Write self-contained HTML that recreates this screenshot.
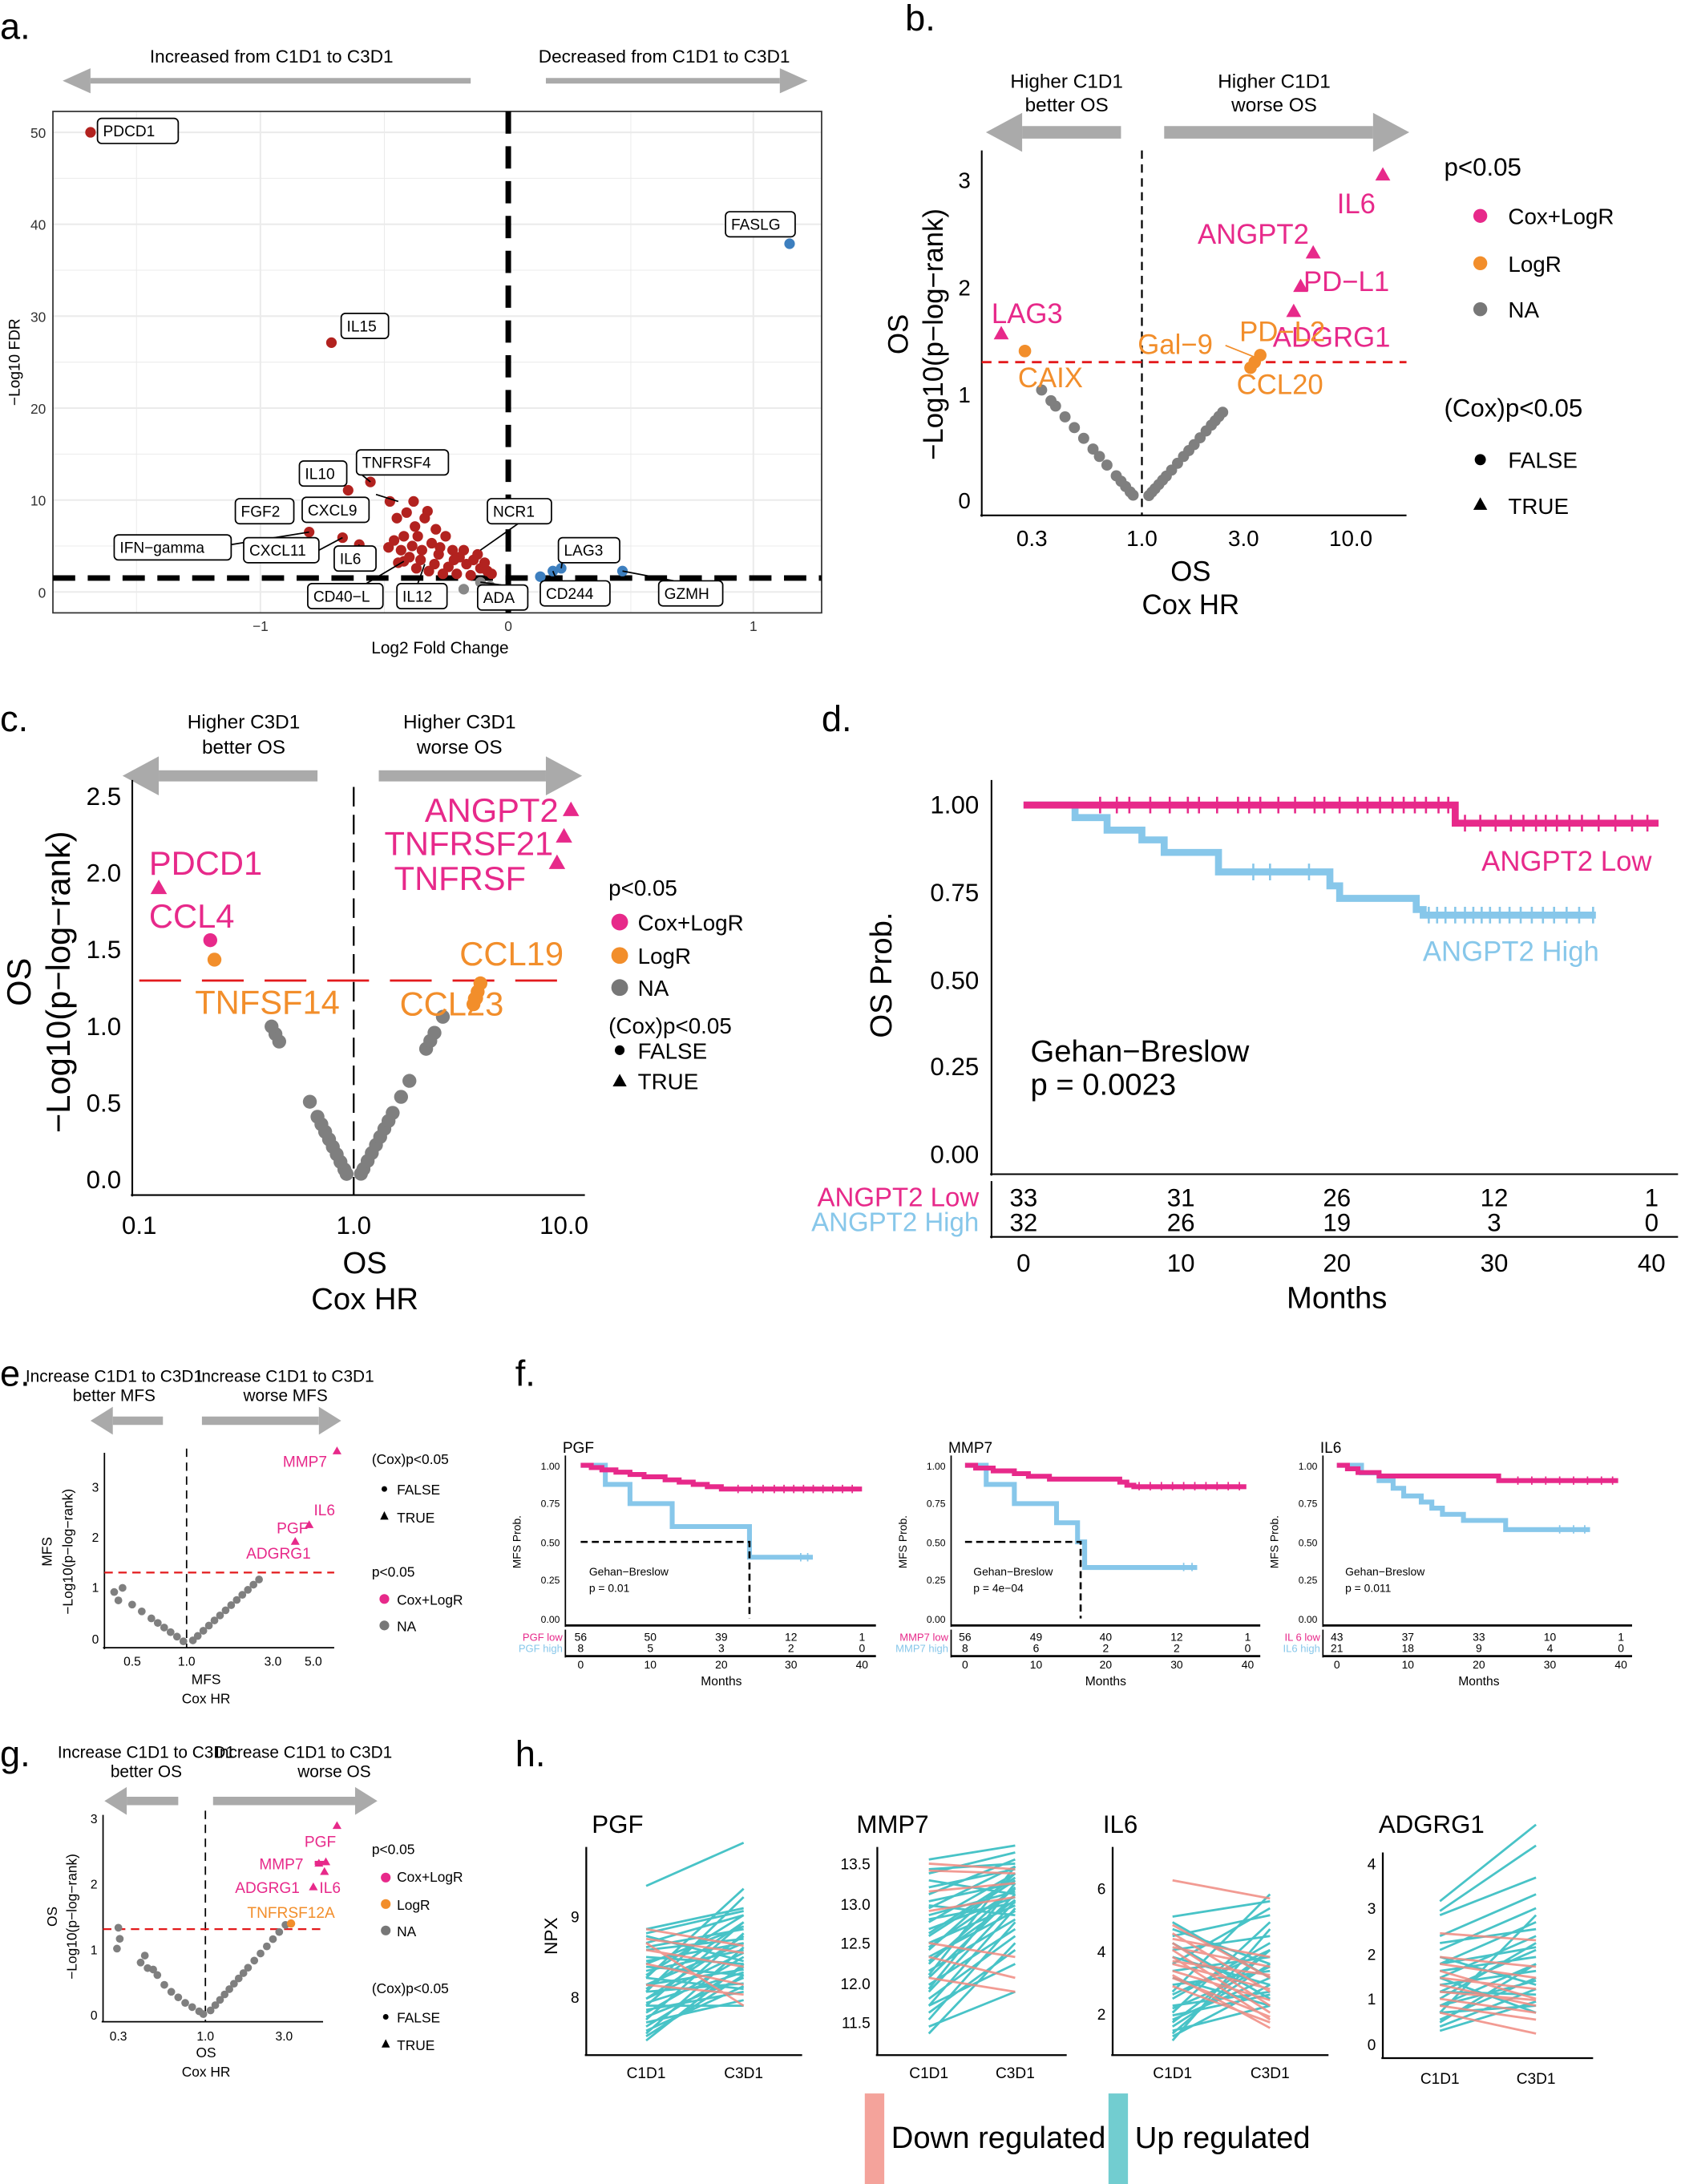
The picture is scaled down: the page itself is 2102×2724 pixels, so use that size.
<!DOCTYPE html>
<html><head><meta charset="utf-8"><style>
html,body{margin:0;padding:0;background:#fff}
svg{display:block}
text{font-family:"Liberation Sans",Arial,sans-serif}
.n{font-family:"Liberation Sans Narrow","Liberation Sans",sans-serif}
</style></head><body>
<svg xmlns="http://www.w3.org/2000/svg" width="2102" height="2724" viewBox="0 0 1210 1568" preserveAspectRatio="none">
<rect width="1210" height="1568" fill="#fff"/>
<!-- arrows -->
<g fill="#aaa" stroke="#aaa">
<line x1="65" y1="58" x2="338" y2="58" stroke-width="4"/><path d="M45,58 L65,49 L65,67z" stroke="none"/>
<line x1="392" y1="58" x2="560" y2="58" stroke-width="4"/><path d="M580,58 L560,49 L560,67z" stroke="none"/>
<line x1="734" y1="95" x2="805" y2="95" stroke-width="9"/><path d="M708,95 L734,81 L734,109z" stroke="none"/>
<line x1="836" y1="95" x2="986" y2="95" stroke-width="9"/><path d="M1012,95 L986,81 L986,109z" stroke="none"/>
<line x1="114" y1="557" x2="228" y2="557" stroke-width="8"/><path d="M88,557 L114,543 L114,571z" stroke="none"/>
<line x1="272" y1="557" x2="392" y2="557" stroke-width="8"/><path d="M418,557 L392,543 L392,571z" stroke="none"/>
<line x1="81" y1="1020" x2="117" y2="1020" stroke-width="6"/><path d="M65,1020 L81,1010 L81,1030z" stroke="none"/>
<line x1="145" y1="1020" x2="229" y2="1020" stroke-width="6"/><path d="M245,1020 L229,1010 L229,1030z" stroke="none"/>
<line x1="91" y1="1293" x2="128" y2="1293" stroke-width="6"/><path d="M75,1293 L91,1283 L91,1303z" stroke="none"/>
<line x1="153" y1="1293" x2="255" y2="1293" stroke-width="6"/><path d="M271,1293 L255,1283 L255,1303z" stroke="none"/>
</g>
<!-- ===== Panel a ===== -->
<text x="0" y="28" font-size="26">a.</text>
<text x="195" y="45" font-size="13" text-anchor="middle">Increased from C1D1 to C3D1</text>
<text x="477" y="45" font-size="13" text-anchor="middle">Decreased from C1D1 to C3D1</text>
<g stroke="#ebebeb">
<line x1="98" y1="80" x2="98" y2="440" stroke-width="0.6"/><line x1="187" y1="80" x2="187" y2="440" stroke-width="1.2"/>
<line x1="276" y1="80" x2="276" y2="440" stroke-width="0.6"/><line x1="453" y1="80" x2="453" y2="440" stroke-width="0.6"/>
<line x1="541" y1="80" x2="541" y2="440" stroke-width="1.2"/>
<line x1="38" y1="425" x2="590" y2="425" stroke-width="1.2"/><line x1="38" y1="392" x2="590" y2="392" stroke-width="0.6"/>
<line x1="38" y1="359" x2="590" y2="359" stroke-width="1.2"/><line x1="38" y1="326" x2="590" y2="326" stroke-width="0.6"/>
<line x1="38" y1="293" x2="590" y2="293" stroke-width="1.2"/><line x1="38" y1="260" x2="590" y2="260" stroke-width="0.6"/>
<line x1="38" y1="227" x2="590" y2="227" stroke-width="1.2"/><line x1="38" y1="194" x2="590" y2="194" stroke-width="0.6"/>
<line x1="38" y1="161" x2="590" y2="161" stroke-width="1.2"/><line x1="38" y1="128" x2="590" y2="128" stroke-width="0.6"/>
<line x1="38" y1="95" x2="590" y2="95" stroke-width="1.2"/></g>
<rect x="38" y="80" width="552" height="360" fill="none" stroke="#333" stroke-width="1"/>
<g font-size="10" text-anchor="end" fill="#333">
<text x="33" y="99">50</text><text x="33" y="165">40</text><text x="33" y="231">30</text><text x="33" y="297">20</text><text x="33" y="363">10</text><text x="33" y="429">0</text></g>
<g font-size="10" text-anchor="middle" fill="#333"><text x="187" y="453">−1</text><text x="365" y="453">0</text><text x="541" y="453">1</text></g>
<text x="316" y="469" font-size="12" text-anchor="middle">Log2 Fold Change</text>
<text transform="translate(14,260) rotate(-90)" font-size="11" text-anchor="middle">−Log10 FDR</text>
<line x1="365" y1="80" x2="365" y2="440" stroke="#000" stroke-width="4" stroke-dasharray="16,9"/>
<line x1="38" y1="415" x2="590" y2="415" stroke="#000" stroke-width="4" stroke-dasharray="16,9"/>
<g fill="#b2221f">
<circle cx="65" cy="95" r="3.8"/><circle cx="238" cy="246" r="3.8"/><circle cx="266" cy="346" r="3.8"/><circle cx="250" cy="352" r="3.8"/><circle cx="222" cy="382" r="3.8"/><circle cx="246" cy="386" r="3.8"/><circle cx="258" cy="391" r="3.8"/><circle cx="290" cy="403" r="3.8"/><circle cx="248" cy="366" r="3.8"/>
<circle cx="280" cy="360" r="3.8"/><circle cx="285" cy="372" r="3.8"/><circle cx="292" cy="368" r="3.8"/><circle cx="298" cy="378" r="3.8"/><circle cx="300" cy="385" r="3.8"/><circle cx="305" cy="372" r="3.8"/><circle cx="296" cy="392" r="3.8"/><circle cx="288" cy="395" r="3.8"/><circle cx="310" cy="390" r="3.8"/><circle cx="315" cy="398" r="3.8"/><circle cx="320" cy="385" r="3.8"/><circle cx="325" cy="395" r="3.8"/><circle cx="330" cy="400" r="3.8"/><circle cx="335" cy="405" r="3.8"/><circle cx="312" cy="405" r="3.8"/><circle cx="302" cy="402" r="3.8"/><circle cx="294" cy="400" r="3.8"/><circle cx="322" cy="407" r="3.8"/><circle cx="340" cy="402" r="3.8"/><circle cx="345" cy="408" r="3.8"/><circle cx="350" cy="410" r="3.8"/><circle cx="318" cy="412" r="3.8"/><circle cx="308" cy="410" r="3.8"/><circle cx="328" cy="412" r="3.8"/><circle cx="338" cy="413" r="3.8"/><circle cx="290" cy="385" r="3.8"/><circle cx="283" cy="388" r="3.8"/><circle cx="303" cy="395" r="3.8"/><circle cx="313" cy="380" r="3.8"/><circle cx="297" cy="360" r="3.8"/><circle cx="307" cy="367" r="3.8"/><circle cx="326" cy="402" r="3.8"/><circle cx="333" cy="395" r="3.8"/><circle cx="343" cy="398" r="3.8"/><circle cx="348" cy="404" r="3.8"/><circle cx="353" cy="412" r="3.8"/><circle cx="286" cy="404" r="3.8"/><circle cx="279" cy="393" r="3.8"/><circle cx="299" cy="408" r="3.8"/><circle cx="316" cy="393" r="3.8"/></g>
<g fill="#3d7fbf"><circle cx="567" cy="175" r="3.8"/><circle cx="397" cy="410" r="3.8"/><circle cx="403" cy="408" r="3.8"/><circle cx="447" cy="410" r="3.8"/><circle cx="388" cy="414" r="3.8"/></g>
<g fill="#888"><circle cx="333" cy="423" r="3.8"/><circle cx="345" cy="418" r="3.8"/><circle cx="352" cy="421" r="3.8"/></g>
<g stroke="#000" stroke-width="1">
<line x1="270" y1="355" x2="286" y2="360"/><line x1="260" y1="341" x2="266" y2="346"/><line x1="255" y1="365" x2="248" y2="367"/><line x1="166" y1="391" x2="222" y2="382"/><line x1="229" y1="395" x2="246" y2="386"/><line x1="249" y1="410" x2="258" y2="391"/><line x1="263" y1="419" x2="290" y2="403"/><line x1="300" y1="419" x2="305" y2="405"/><line x1="360" y1="420" x2="345" y2="418"/><line x1="372" y1="376" x2="345" y2="395"/><line x1="405" y1="396" x2="403" y2="408"/><line x1="400" y1="417" x2="397" y2="410"/><line x1="484" y1="417" x2="447" y2="410"/></g>
<g fill="#fff" stroke="#000" stroke-width="1">
<rect x="70" y="85" width="58" height="18" rx="3"/><rect x="521" y="152" width="50" height="18" rx="3"/><rect x="245" y="225" width="34" height="18" rx="3"/><rect x="256" y="323" width="66" height="18" rx="3"/><rect x="215" y="331" width="34" height="18" rx="3"/><rect x="217" y="357" width="48" height="18" rx="3"/><rect x="169" y="358" width="42" height="18" rx="3"/><rect x="82" y="384" width="84" height="18" rx="3"/><rect x="175" y="386" width="54" height="18" rx="3"/><rect x="240" y="392" width="30" height="18" rx="3"/><rect x="221" y="419" width="54" height="18" rx="3"/><rect x="285" y="419" width="36" height="18" rx="3"/><rect x="343" y="420" width="36" height="18" rx="3"/><rect x="350" y="358" width="46" height="18" rx="3"/><rect x="401" y="386" width="44" height="18" rx="3"/><rect x="388" y="417" width="50" height="18" rx="3"/><rect x="473" y="417" width="46" height="18" rx="3"/></g>
<g font-size="11">
<text x="74" y="98">PDCD1</text><text x="525" y="165">FASLG</text><text x="249" y="238">IL15</text><text x="260" y="336">TNFRSF4</text><text x="219" y="344">IL10</text><text x="221" y="370">CXCL9</text><text x="173" y="371">FGF2</text><text x="86" y="397">IFN−gamma</text><text x="179" y="399">CXCL11</text><text x="244" y="405">IL6</text><text x="225" y="432">CD40−L</text><text x="289" y="432">IL12</text><text x="347" y="433">ADA</text><text x="354" y="371">NCR1</text><text x="405" y="399">LAG3</text><text x="392" y="430">CD244</text><text x="477" y="430">GZMH</text></g>
<!-- ===== Panel b ===== -->
<text x="650" y="22" font-size="26">b.</text>
<g font-size="14" text-anchor="middle"><text x="766" y="63">Higher C1D1</text><text x="766" y="80">better OS</text><text x="915" y="63">Higher C1D1</text><text x="915" y="80">worse OS</text></g>
<line x1="705" y1="108" x2="705" y2="371" stroke="#000" stroke-width="1.2"/>
<line x1="704" y1="370" x2="1010" y2="370" stroke="#000" stroke-width="1.2"/>
<g font-size="16" text-anchor="end"><text x="697" y="135">3</text><text x="697" y="212">2</text><text x="697" y="289">1</text><text x="697" y="365">0</text></g>
<g font-size="16" text-anchor="middle"><text x="741" y="392">0.3</text><text x="820" y="392">1.0</text><text x="893" y="392">3.0</text><text x="970" y="392">10.0</text></g>
<text x="855" y="417" font-size="20" text-anchor="middle">OS</text><text x="855" y="441" font-size="20" text-anchor="middle">Cox HR</text>
<text transform="translate(652,240) rotate(-90)" font-size="20" text-anchor="middle">OS</text>
<text transform="translate(677,240) rotate(-90)" font-size="20" text-anchor="middle">−Log10(p−log−rank)</text>
<line x1="820" y1="108" x2="820" y2="370" stroke="#000" stroke-width="1.3" stroke-dasharray="6,4"/>
<line x1="705" y1="260" x2="1010" y2="260" stroke="#e31a1c" stroke-width="1.6" stroke-dasharray="7,5"/>
<g fill="#7f7f7f">
<circle cx="813.7" cy="355.5" r="4"/><circle cx="811.6" cy="353.2" r="4"/><circle cx="808.3" cy="349.3" r="4"/><circle cx="805" cy="345.5" r="4"/><circle cx="801.6" cy="341.6" r="4"/><circle cx="794.9" cy="333.9" r="4"/><circle cx="789.5" cy="327.7" r="4"/><circle cx="784.9" cy="322.4" r="4"/><circle cx="778.2" cy="314.7" r="4"/><circle cx="771.5" cy="307" r="4"/><circle cx="764.8" cy="299.3" r="4"/><circle cx="758" cy="291.5" r="4"/><circle cx="754.7" cy="287.7" r="4"/><circle cx="748" cy="280" r="4"/>
<circle cx="825" cy="355.8" r="4"/><circle cx="827.2" cy="353.3" r="4"/><circle cx="829.4" cy="350.9" r="4"/><circle cx="832.1" cy="347.9" r="4"/><circle cx="834.8" cy="344.8" r="4"/><circle cx="837.5" cy="341.8" r="4"/><circle cx="841.3" cy="337.5" r="4"/><circle cx="845.6" cy="332.6" r="4"/><circle cx="849.9" cy="327.7" r="4"/><circle cx="853.7" cy="323.5" r="4"/><circle cx="857.5" cy="319.2" r="4"/><circle cx="861.8" cy="314.3" r="4"/><circle cx="866.1" cy="309.4" r="4"/><circle cx="869.9" cy="305.2" r="4"/><circle cx="872.6" cy="302.1" r="4"/><circle cx="875.3" cy="299" r="4"/><circle cx="878" cy="296" r="4"/></g>
<g fill="#e7298a"><path d="M993,120 l5.4,9.6 h-10.8z"/><path d="M943,176 l5.4,9.6 h-10.8z"/><path d="M934,200 l5.4,9.6 h-10.8z"/><path d="M929,218 l5.4,9.6 h-10.8z"/><path d="M719,234 l5.4,9.6 h-10.8z"/></g>
<g fill="#f28e2b"><circle cx="736" cy="252" r="4.5"/><circle cx="905" cy="255" r="4.5"/><circle cx="901" cy="260" r="4.5"/><circle cx="898" cy="264" r="4.5"/></g>
<g font-size="20" fill="#e7298a"><text x="960" y="153">IL6</text><text x="860" y="175">ANGPT2</text><text x="936" y="209">PD−L1</text><text x="914" y="249">ADGRG1</text><text x="712" y="232">LAG3</text></g>
<g font-size="20" fill="#f28e2b"><text x="817" y="254">Gal−9</text><text x="890" y="245">PD−L2</text><text x="731" y="278">CAIX</text><text x="888" y="283">CCL20</text></g>
<line x1="880" y1="248" x2="900" y2="256" stroke="#f28e2b" stroke-width="1"/>
<text x="1037" y="126" font-size="18">p&lt;0.05</text>
<g font-size="16"><text x="1083" y="161">Cox+LogR</text><text x="1083" y="195">LogR</text><text x="1083" y="228">NA</text>
<text x="1037" y="299" font-size="18">(Cox)p&lt;0.05</text><text x="1083" y="336">FALSE</text><text x="1083" y="369">TRUE</text></g>
<circle cx="1063" cy="155" r="5" fill="#e7298a"/><circle cx="1063" cy="189" r="5" fill="#f28e2b"/><circle cx="1063" cy="222" r="5" fill="#777"/>
<circle cx="1063" cy="330" r="4" fill="#000"/><path d="M1063,357 l5,9 h-10z" fill="#000"/>
<!-- ===== Panel c ===== -->
<text x="0" y="525" font-size="26">c.</text>
<g font-size="14" text-anchor="middle"><text x="175" y="523">Higher C3D1</text><text x="175" y="541">better OS</text><text x="330" y="523">Higher C3D1</text><text x="330" y="541">worse OS</text></g>
<line x1="95" y1="560" x2="95" y2="859" stroke="#000" stroke-width="1.2"/>
<line x1="94" y1="858" x2="420" y2="858" stroke="#000" stroke-width="1.2"/>
<g font-size="18" text-anchor="end"><text x="87" y="578">2.5</text><text x="87" y="633">2.0</text><text x="87" y="688">1.5</text><text x="87" y="743">1.0</text><text x="87" y="798">0.5</text><text x="87" y="853">0.0</text></g>
<g font-size="18" text-anchor="middle"><text x="100" y="886">0.1</text><text x="254" y="886">1.0</text><text x="405" y="886">10.0</text></g>
<text x="262" y="914" font-size="22" text-anchor="middle">OS</text><text x="262" y="940" font-size="22" text-anchor="middle">Cox HR</text>
<text transform="translate(22,705) rotate(-90)" font-size="24" text-anchor="middle">OS</text>
<text transform="translate(50,705) rotate(-90)" font-size="24" text-anchor="middle">−Log10(p−log−rank)</text>
<line x1="254" y1="565" x2="254" y2="858" stroke="#000" stroke-width="1.3" stroke-dasharray="14,6"/>
<line x1="100" y1="704" x2="405" y2="704" stroke="#e31a1c" stroke-width="1.6" stroke-dasharray="30,15"/>
<g fill="#7f7f7f">
<circle cx="248.9" cy="842.8" r="5"/><circle cx="247.3" cy="839.6" r="5"/><circle cx="244.5" cy="834.2" r="5"/><circle cx="241.8" cy="828.8" r="5"/><circle cx="239" cy="823.4" r="5"/><circle cx="236.3" cy="818" r="5"/><circle cx="233.5" cy="812.6" r="5"/><circle cx="230.8" cy="807.2" r="5"/><circle cx="228" cy="801.8" r="5"/><circle cx="222.5" cy="791" r="5"/><circle cx="200.5" cy="747.8" r="5"/><circle cx="197.8" cy="742.4" r="5"/><circle cx="195" cy="737" r="5"/>
<circle cx="259.2" cy="842.7" r="5"/><circle cx="261" cy="839.3" r="5"/><circle cx="264" cy="833.5" r="5"/><circle cx="267" cy="827.8" r="5"/><circle cx="270" cy="822" r="5"/><circle cx="273" cy="816.3" r="5"/><circle cx="276" cy="810.5" r="5"/><circle cx="279" cy="804.8" r="5"/><circle cx="282" cy="799" r="5"/><circle cx="288" cy="787.5" r="5"/><circle cx="294" cy="776" r="5"/><circle cx="306" cy="753" r="5"/><circle cx="309" cy="747.3" r="5"/><circle cx="312" cy="741.5" r="5"/><circle cx="318" cy="730" r="5"/></g>
<g fill="#f28e2b"><circle cx="343" cy="712" r="5"/><circle cx="345" cy="706" r="5"/><circle cx="341" cy="717" r="5"/><circle cx="340" cy="721" r="5"/><circle cx="154" cy="689" r="5"/></g>
<g fill="#e7298a"><path d="M410,575.5 l5.9,10.4 h-11.8z"/><path d="M405,594.5 l5.9,10.4 h-11.8z"/><path d="M400,613.5 l5.9,10.4 h-11.8z"/><path d="M114,631.5 l5.9,10.4 h-11.8z"/><circle cx="151" cy="675" r="5"/></g>
<g font-size="24" fill="#e7298a"><text x="305" y="590">ANGPT2</text><text x="276" y="614">TNFRSF21</text><text x="283" y="639">TNFRSF</text><text x="107" y="628">PDCD1</text><text x="107" y="666">CCL4</text></g>
<g font-size="24" fill="#f28e2b"><text x="330" y="693">CCL19</text><text x="140" y="728">TNFSF14</text><text x="287" y="729">CCL23</text></g>
<text x="437" y="643" font-size="16">p&lt;0.05</text>
<g font-size="16"><text x="458" y="668">Cox+LogR</text><text x="458" y="692">LogR</text><text x="458" y="715">NA</text><text x="437" y="742">(Cox)p&lt;0.05</text><text x="458" y="760">FALSE</text><text x="458" y="782">TRUE</text></g>
<circle cx="445" cy="662" r="6" fill="#e7298a"/><circle cx="445" cy="686" r="6" fill="#f28e2b"/><circle cx="445" cy="709" r="6" fill="#777"/>
<circle cx="445" cy="754" r="3.5" fill="#000"/><path d="M445,771 l5,9 h-10z" fill="#000"/>
<!-- ===== Panel d ===== -->
<text x="590" y="525" font-size="26">d.</text>
<line x1="712" y1="560" x2="712" y2="844" stroke="#000" stroke-width="1.2"/>
<line x1="711" y1="843" x2="1205" y2="843" stroke="#000" stroke-width="1.2"/>
<g font-size="18" text-anchor="end"><text x="703" y="584">1.00</text><text x="703" y="647">0.75</text><text x="703" y="710">0.50</text><text x="703" y="772">0.25</text><text x="703" y="835">0.00</text></g>
<text transform="translate(640,700) rotate(-90)" font-size="22" text-anchor="middle">OS Prob.</text>
<path d="M735,578 H772 V587 H795 V596 H820 V603 H836 V612 H875 V626 H955 V636 H962 V645 H1017 V653 H1022 V657 H1146" fill="none" stroke="#87c7ea" stroke-width="5"/>
<path d="M735,578 H1045 V591 H1191" fill="none" stroke="#e7298a" stroke-width="5"/>
<g stroke="#e7298a" stroke-width="1.5">
<path d="M790,572v12M802,572v12M811,572v12M826,572v12M840,572v12M853,572v12M861,572v12M874,572v12M889,572v12M897,572v12M905,572v12M918,572v12M930,572v12M944,572v12M951,572v12M962,572v12M975,572v12M982,572v12M991,572v12M1000,572v12M1008,572v12M1016,572v12M1024,572v12M1033,572v12M1040,572v12M1052,585v12M1063,585v12M1074,585v12M1085,585v12M1094,585v12M1103,585v12M1110,585v12M1118,585v12M1127,585v12M1136,585v12M1148,585v12M1160,585v12M1172,585v12M1183,585v12"/></g>
<g stroke="#87c7ea" stroke-width="1.5">
<path d="M900,620v12M912,620v12M940,620v12M1026,651v12M1032,651v12M1038,651v12M1045,651v12M1052,651v12M1058,651v12M1064,651v12M1070,651v12M1077,651v12M1084,651v12M1092,651v12M1100,651v12M1108,651v12M1116,651v12M1125,651v12M1134,651v12M1144,651v12"/></g>
<text x="1125" y="625" font-size="20" fill="#e7298a" text-anchor="middle">ANGPT2 Low</text>
<text x="1085" y="690" font-size="20" fill="#87c7ea" text-anchor="middle">ANGPT2 High</text>
<text x="740" y="762" font-size="22">Gehan−Breslow</text><text x="740" y="786" font-size="22">p = 0.0023</text>
<line x1="712" y1="848" x2="712" y2="889" stroke="#000" stroke-width="1.2"/>
<line x1="711" y1="888" x2="1205" y2="888" stroke="#000" stroke-width="1.2"/>
<text x="703" y="866" font-size="19" fill="#e7298a" text-anchor="end">ANGPT2 Low</text>
<text x="703" y="884" font-size="19" fill="#87c7ea" text-anchor="end">ANGPT2 High</text>
<g font-size="18" text-anchor="middle"><text x="735" y="866">33</text><text x="848" y="866">31</text><text x="960" y="866">26</text><text x="1073" y="866">12</text><text x="1186" y="866">1</text>
<text x="735" y="884">32</text><text x="848" y="884">26</text><text x="960" y="884">19</text><text x="1073" y="884">3</text><text x="1186" y="884">0</text>
<text x="735" y="913">0</text><text x="848" y="913">10</text><text x="960" y="913">20</text><text x="1073" y="913">30</text><text x="1186" y="913">40</text></g>
<text x="960" y="939" font-size="22" text-anchor="middle">Months</text>
<!-- ===== Panel e ===== -->
<text x="0" y="995" font-size="26">e.</text>
<g font-size="12" text-anchor="middle" class="n"><text x="82" y="992" class="n">Increase C1D1 to C3D1</text><text x="82" y="1006" class="n">better MFS</text><text x="205" y="992" class="n">Increase C1D1 to C3D1</text><text x="205" y="1006" class="n">worse MFS</text></g>
<line x1="75" y1="1043" x2="75" y2="1184" stroke="#000" stroke-width="1"/>
<line x1="74" y1="1183" x2="240" y2="1183" stroke="#000" stroke-width="1"/>
<g font-size="9" text-anchor="end"><text x="71" y="1180">0</text><text x="71" y="1143">1</text><text x="71" y="1107">2</text><text x="71" y="1071">3</text></g>
<g font-size="9" text-anchor="middle"><text x="95" y="1196">0.5</text><text x="134" y="1196">1.0</text><text x="196" y="1196">3.0</text><text x="225" y="1196">5.0</text></g>
<text x="148" y="1209" font-size="10" text-anchor="middle" class="n">MFS</text><text x="148" y="1223" font-size="10" text-anchor="middle" class="n">Cox HR</text>
<text transform="translate(37,1114) rotate(-90)" font-size="10" text-anchor="middle">MFS</text>
<text transform="translate(52,1114) rotate(-90)" font-size="10" text-anchor="middle">−Log10(p−log−rank)</text>
<line x1="134" y1="1040" x2="134" y2="1183" stroke="#000" stroke-width="1" stroke-dasharray="6,4"/>
<line x1="75" y1="1129" x2="240" y2="1129" stroke="#e31a1c" stroke-width="1.3" stroke-dasharray="6,4"/>
<g fill="#7f7f7f">
<circle cx="131.7" cy="1178.4" r="2.8"/><circle cx="127.1" cy="1175" r="2.8"/><circle cx="122.5" cy="1171.8" r="2.8"/><circle cx="117.9" cy="1168.5" r="2.8"/><circle cx="113.3" cy="1165.2" r="2.8"/><circle cx="108.7" cy="1161.9" r="2.8"/><circle cx="101.8" cy="1156.9" r="2.8"/><circle cx="94.9" cy="1152" r="2.8"/><circle cx="82" cy="1143" r="2.8"/><circle cx="85" cy="1149" r="2.8"/><circle cx="88" cy="1140" r="2.8"/>
<circle cx="138.5" cy="1177.7" r="2.8"/><circle cx="142" cy="1174.5" r="2.8"/><circle cx="146" cy="1170.8" r="2.8"/><circle cx="150" cy="1167.1" r="2.8"/><circle cx="154" cy="1163.4" r="2.8"/><circle cx="158" cy="1159.8" r="2.8"/><circle cx="162" cy="1156.1" r="2.8"/><circle cx="166" cy="1152.4" r="2.8"/><circle cx="170" cy="1148.7" r="2.8"/><circle cx="174" cy="1145" r="2.8"/><circle cx="178" cy="1141.4" r="2.8"/><circle cx="182" cy="1137.7" r="2.8"/><circle cx="186" cy="1134" r="2.8"/></g>
<g fill="#e7298a"><path d="M242,1038.5 l3.2,5.6 h-6.4z"/><path d="M222,1091.5 l3.2,5.6 h-6.4z"/><path d="M212,1103.5 l3.2,5.6 h-6.4z"/></g>
<g font-size="11" fill="#e7298a" text-anchor="middle" class="n"><text x="219" y="1053" class="n">MMP7</text><text x="233" y="1088" class="n">IL6</text><text x="210" y="1101" class="n">PGF</text><text x="200" y="1119" class="n">ADGRG1</text></g>
<g font-size="10" class="n"><text x="267" y="1051" class="n">(Cox)p&lt;0.05</text><text x="285" y="1073" class="n">FALSE</text><text x="285" y="1093" class="n">TRUE</text><text x="267" y="1132" class="n">p&lt;0.05</text><text x="285" y="1152" class="n">Cox+LogR</text><text x="285" y="1171" class="n">NA</text></g>
<circle cx="276" cy="1069" r="2" fill="#000"/><path d="M276,1085 l3,6 h-6z" fill="#000"/><circle cx="276" cy="1148" r="3.5" fill="#e7298a"/><circle cx="276" cy="1167" r="3.5" fill="#777"/>
<!-- ===== Panel f ===== -->
<text x="370" y="995" font-size="26">f.</text>
<g stroke="#000">
<line x1="406" y1="1045" x2="406" y2="1168" stroke-width="1"/><line x1="406" y1="1167" x2="629" y2="1167" stroke-width="1.6"/><line x1="406" y1="1170" x2="406" y2="1190" stroke-width="1"/><line x1="406" y1="1189" x2="629" y2="1189" stroke-width="1.6"/>
<line x1="683" y1="1045" x2="683" y2="1168" stroke-width="1"/><line x1="683" y1="1167" x2="905" y2="1167" stroke-width="1.6"/><line x1="683" y1="1170" x2="683" y2="1190" stroke-width="1"/><line x1="683" y1="1189" x2="905" y2="1189" stroke-width="1.6"/>
<line x1="950" y1="1045" x2="950" y2="1168" stroke-width="1"/><line x1="950" y1="1167" x2="1172" y2="1167" stroke-width="1.6"/><line x1="950" y1="1170" x2="950" y2="1190" stroke-width="1"/><line x1="950" y1="1189" x2="1172" y2="1189" stroke-width="1.6"/></g>
<g fill="none" stroke-width="3.5">
<path stroke="#87c7ea" d="M417,1052 H434.7 V1065.75 H452.4 V1079.5 H482.7 V1096 H538.2 V1118 H583.7"/>
<path stroke="#e7298a" d="M417,1052 H424.6 V1053.65 H432.2 V1055.3 H442.3 V1056.95 H452.4 V1058.6 H462.5 V1060.25 H477.6 V1062.45 H487.7 V1064.1 H497.8 V1065.75 H507.9 V1067.4 H518 V1069.05 H619"/>
<path stroke="#87c7ea" d="M693,1052 H708.2 V1065.75 H728.4 V1079.5 H758.7 V1093.25 H773.8 V1107 H778.9 V1125.4 H859.7"/>
<path stroke="#e7298a" d="M693,1052 H700.6 V1054 H713.2 V1056 H728.4 V1058 H738.5 V1059.9 H753.6 V1061.9 H804.1 V1064.1 H809.2 V1066.3 H814.2 V1067.4 H895"/>
<path stroke="#87c7ea" d="M960,1052 H977.7 V1057.5 H990.3 V1063 H1000.4 V1068.5 H1008 V1074 H1020.6 V1078.4 H1028.2 V1082.8 H1035.8 V1087.2 H1050.9 V1091.6 H1081.2 V1098.2 H1141.8"/>
<path stroke="#e7298a" d="M960,1052 H967.6 V1054.5 H975.2 V1057.2 H990.3 V1059.7 H1076.2 V1063 H1162"/></g>
<g stroke-width="1" stroke="#e7298a"><path d="M530,1066v6M540,1066v6M548,1066v6M556,1066v6M563,1066v6M570,1066v6M577,1066v6M584,1066v6M591,1066v6M598,1066v6M605,1066v6M612,1066v6M818,1064v6M826,1064v6M834,1064v6M842,1064v6M850,1064v6M858,1064v6M866,1064v6M874,1064v6M882,1064v6M890,1064v6M1090,1060v6M1100,1060v6M1110,1060v6M1120,1060v6M1130,1060v6M1140,1060v6M1150,1060v6M1158,1060v6"/></g>
<g stroke-width="1" stroke="#87c7ea"><path d="M575,1115v6M580,1115v6M850,1122v6M856,1122v6M1120,1095v6M1130,1095v6M1138,1095v6"/></g>
<g fill="none" stroke="#000" stroke-width="1.5" stroke-dasharray="5,3"><path d="M417,1107 H538.2 V1162"/><path d="M693,1107 H776 V1162"/></g>
<g font-size="11" class="n"><text x="404" y="1043" class="n">PGF</text><text x="681" y="1043" class="n">MMP7</text><text x="948" y="1043" class="n">IL6</text></g>
<g font-size="8" class="n">
<text x="423" y="1131" class="n">Gehan−Breslow</text><text x="423" y="1143" class="n">p = 0.01</text>
<text x="699" y="1131" class="n">Gehan−Breslow</text><text x="699" y="1143" class="n">p = 4e−04</text>
<text x="966" y="1131" class="n">Gehan−Breslow</text><text x="966" y="1143" class="n">p = 0.011</text></g>
<g font-size="7.5" text-anchor="end" class="n">
<text x="404" y="1178" fill="#e7298a" class="n">PGF low</text><text x="404" y="1186" fill="#87c7ea" class="n">PGF high</text>
<text x="681" y="1178" fill="#e7298a" class="n">MMP7 low</text><text x="681" y="1186" fill="#87c7ea" class="n">MMP7 high</text>
<text x="948" y="1178" fill="#e7298a" class="n">IL 6 low</text><text x="948" y="1186" fill="#87c7ea" class="n">IL6 high</text></g>
<g font-size="8" text-anchor="middle" class="n">
<text x="417" y="1178">56</text><text x="467" y="1178">50</text><text x="518" y="1178">39</text><text x="568" y="1178">12</text><text x="619" y="1178">1</text>
<text x="417" y="1186">8</text><text x="467" y="1186">5</text><text x="518" y="1186">3</text><text x="568" y="1186">2</text><text x="619" y="1186">0</text>
<text x="693" y="1178">56</text><text x="744" y="1178">49</text><text x="794" y="1178">40</text><text x="845" y="1178">12</text><text x="896" y="1178">1</text>
<text x="693" y="1186">8</text><text x="744" y="1186">6</text><text x="794" y="1186">2</text><text x="845" y="1186">2</text><text x="896" y="1186">0</text>
<text x="960" y="1178">43</text><text x="1011" y="1178">37</text><text x="1062" y="1178">33</text><text x="1113" y="1178">10</text><text x="1164" y="1178">1</text>
<text x="960" y="1186">21</text><text x="1011" y="1186">18</text><text x="1062" y="1186">9</text><text x="1113" y="1186">4</text><text x="1164" y="1186">0</text>
<text x="417" y="1198">0</text><text x="467" y="1198">10</text><text x="518" y="1198">20</text><text x="568" y="1198">30</text><text x="619" y="1198">40</text>
<text x="693" y="1198">0</text><text x="744" y="1198">10</text><text x="794" y="1198">20</text><text x="845" y="1198">30</text><text x="896" y="1198">40</text>
<text x="960" y="1198">0</text><text x="1011" y="1198">10</text><text x="1062" y="1198">20</text><text x="1113" y="1198">30</text><text x="1164" y="1198">40</text></g>
<g font-size="9" text-anchor="middle" class="n"><text x="518" y="1210" class="n">Months</text><text x="794" y="1210" class="n">Months</text><text x="1062" y="1210" class="n">Months</text></g>
<g font-size="7" text-anchor="end" class="n">
<text x="402" y="1055">1.00</text><text x="402" y="1082">0.75</text><text x="402" y="1110">0.50</text><text x="402" y="1137">0.25</text><text x="402" y="1165">0.00</text>
<text x="679" y="1055">1.00</text><text x="679" y="1082">0.75</text><text x="679" y="1110">0.50</text><text x="679" y="1137">0.25</text><text x="679" y="1165">0.00</text>
<text x="946" y="1055">1.00</text><text x="946" y="1082">0.75</text><text x="946" y="1110">0.50</text><text x="946" y="1137">0.25</text><text x="946" y="1165">0.00</text></g>
<g font-size="8" text-anchor="middle"><text transform="translate(374,1107) rotate(-90)">MFS Prob.</text><text transform="translate(651,1107) rotate(-90)">MFS Prob.</text><text transform="translate(918,1107) rotate(-90)">MFS Prob.</text></g>
<!-- ===== Panel g ===== -->
<text x="0" y="1268" font-size="26">g.</text>
<g font-size="12" text-anchor="middle" class="n"><text x="105" y="1262" class="n">Increase C1D1 to C3D1</text><text x="105" y="1276" class="n">better OS</text><text x="218" y="1262" class="n">Increase C1D1 to C3D1</text><text x="240" y="1276" class="n">worse OS</text></g>
<line x1="74" y1="1303" x2="74" y2="1452" stroke="#000" stroke-width="1"/>
<line x1="73" y1="1451.5" x2="232" y2="1451.5" stroke="#000" stroke-width="1"/>
<g font-size="9" text-anchor="end"><text x="70" y="1309">3</text><text x="70" y="1356">2</text><text x="70" y="1403">1</text><text x="70" y="1450">0</text></g>
<g font-size="9" text-anchor="middle"><text x="85" y="1465">0.3</text><text x="147.5" y="1465">1.0</text><text x="204" y="1465">3.0</text></g>
<text x="148" y="1477" font-size="10" text-anchor="middle" class="n">OS</text><text x="148" y="1491" font-size="10" text-anchor="middle" class="n">Cox HR</text>
<text transform="translate(41,1376) rotate(-90)" font-size="10" text-anchor="middle">OS</text>
<text transform="translate(55,1376) rotate(-90)" font-size="10" text-anchor="middle">−Log10(p−log−rank)</text>
<line x1="147.5" y1="1300" x2="147.5" y2="1451" stroke="#000" stroke-width="1" stroke-dasharray="6,4"/>
<line x1="74" y1="1385" x2="232" y2="1385" stroke="#e31a1c" stroke-width="1.3" stroke-dasharray="6,4"/>
<g fill="#7f7f7f">
<circle cx="85" cy="1384" r="2.8"/><circle cx="86" cy="1392" r="2.8"/><circle cx="84" cy="1399" r="2.8"/><circle cx="101" cy="1409" r="2.8"/><circle cx="104" cy="1404" r="2.8"/><circle cx="106" cy="1413" r="2.8"/><circle cx="110" cy="1414" r="2.8"/><circle cx="113" cy="1418" r="2.8"/><circle cx="118" cy="1425" r="2.8"/><circle cx="123" cy="1430" r="2.8"/><circle cx="128" cy="1434" r="2.8"/><circle cx="133" cy="1438" r="2.8"/><circle cx="138" cy="1441" r="2.8"/><circle cx="143" cy="1444" r="2.8"/><circle cx="146" cy="1446" r="2.8"/>
<circle cx="151.2" cy="1443.4" r="2.8"/><circle cx="154.6" cy="1439.6" r="2.8"/><circle cx="158" cy="1435.8" r="2.8"/><circle cx="161.3" cy="1431.9" r="2.8"/><circle cx="164.7" cy="1428.1" r="2.8"/><circle cx="168" cy="1424.2" r="2.8"/><circle cx="171.4" cy="1420.4" r="2.8"/><circle cx="174.8" cy="1416.6" r="2.8"/><circle cx="178.1" cy="1412.7" r="2.8"/><circle cx="182.6" cy="1407.6" r="2.8"/><circle cx="187.1" cy="1402.5" r="2.8"/><circle cx="191.6" cy="1397.4" r="2.8"/><circle cx="196" cy="1392.2" r="2.8"/><circle cx="200.5" cy="1387.1" r="2.8"/><circle cx="205" cy="1382" r="2.8"/></g>
<g fill="#e7298a"><path d="M242,1307.5 l3.2,5.6 h-6.4z"/><path d="M229,1334.5 l3.2,5.6 h-6.4z"/><path d="M234,1333.5 l3.2,5.6 h-6.4z"/><path d="M233,1340.5 l3.2,5.6 h-6.4z"/><path d="M225,1351.5 l3.2,5.6 h-6.4z"/><rect x="226" y="1336" width="9" height="3"/></g>
<circle cx="209" cy="1381" r="3" fill="#f28e2b"/>
<g font-size="11" text-anchor="middle" class="n"><text x="230" y="1326" fill="#e7298a" class="n">PGF</text><text x="202" y="1342" fill="#e7298a" class="n">MMP7</text><text x="192" y="1359" fill="#e7298a" class="n">ADGRG1</text><text x="237" y="1359" fill="#e7298a" class="n">IL6</text><text x="209" y="1377" fill="#f28e2b" class="n">TNFRSF12A</text></g>
<g font-size="10" class="n"><text x="267" y="1331" class="n">p&lt;0.05</text><text x="285" y="1351" class="n">Cox+LogR</text><text x="285" y="1371" class="n">LogR</text><text x="285" y="1390" class="n">NA</text><text x="267" y="1431" class="n">(Cox)p&lt;0.05</text><text x="285" y="1452" class="n">FALSE</text><text x="285" y="1472" class="n">TRUE</text></g>
<circle cx="277" cy="1348" r="3.5" fill="#e7298a"/><circle cx="277" cy="1367" r="3.5" fill="#f28e2b"/><circle cx="277" cy="1386" r="3.5" fill="#777"/><circle cx="277" cy="1448" r="2" fill="#000"/><path d="M277,1464 l3,6 h-6z" fill="#000"/>
<!-- ===== Panel h ===== -->
<text x="370" y="1268" font-size="26">h.</text>
<g font-size="18"><text x="425" y="1316">PGF</text><text x="615" y="1316">MMP7</text><text x="792" y="1316">IL6</text><text x="990" y="1316">ADGRG1</text></g>
<g fill="none" stroke-width="1.6" stroke-opacity="0.85">
<path stroke="#28b9bd" d="M464,1354L534,1323M464,1420L534,1356M464,1430L534,1362M464,1385L534,1370M464,1395L534,1375M464,1440L534,1380M464,1410L534,1383M464,1450L534,1388M464,1400L534,1392M464,1425L534,1395M464,1460L534,1398M464,1415L534,1400M464,1435L534,1402M464,1445L534,1405M464,1390L534,1408M464,1405L534,1410M464,1455L534,1412M464,1425L534,1414M464,1438L534,1416M464,1412L534,1418M464,1448L534,1420M464,1398L534,1385M464,1430L534,1424M464,1458L534,1426M464,1420L534,1428M464,1443L534,1430M464,1465L534,1410M464,1408L534,1395M464,1452L534,1436M464,1440L534,1440M464,1418L534,1375M464,1435L534,1390M464,1462L534,1418M464,1428L534,1380M464,1388L534,1372"/>
<path stroke="#f08a80" d="M464,1385L534,1397M464,1392L534,1402M464,1400L534,1412M464,1410L534,1425M464,1395L534,1440M464,1425L534,1432"/>
<path stroke="#28b9bd" d="M667,1335L729,1325M667,1345L729,1330M667,1360L729,1335M667,1370L729,1340M667,1380L729,1345M667,1390L729,1350M667,1400L729,1345M667,1410L729,1355M667,1420L729,1360M667,1430L729,1365M667,1440L729,1370M667,1450L729,1380M667,1460L729,1395M667,1355L729,1342M667,1365L729,1352M667,1375L729,1358M667,1385L729,1362M667,1395L729,1368M667,1405L729,1372M667,1415L729,1378M667,1425L729,1385M667,1435L729,1390M667,1445L729,1400M667,1350L729,1360M667,1368L729,1375M667,1388L729,1348M667,1398L729,1356M667,1408L729,1364M667,1418L729,1340M667,1428L729,1352M667,1342L729,1338M667,1378L729,1366M667,1440L729,1410M667,1455L729,1430"/>
<path stroke="#f08a80" d="M667,1338L729,1342M667,1343L729,1345M667,1358L729,1352M667,1372L729,1362M667,1395L729,1405M667,1405L729,1420M667,1420L729,1430"/>
<path stroke="#28b9bd" d="M842,1465L912,1385M842,1460L912,1400M842,1455L912,1410M842,1450L912,1420M842,1445L912,1380M842,1440L912,1430M842,1435L912,1395M842,1430L912,1360M842,1425L912,1415M842,1420L912,1440M842,1415L912,1405M842,1410L912,1370M842,1405L912,1425M842,1400L912,1390M842,1395L912,1435M842,1390L912,1375M842,1385L912,1410M842,1380L912,1420M842,1452L912,1400M842,1462L912,1425M842,1442L912,1412M842,1432L912,1400M842,1376L912,1365M842,1458L912,1440M842,1447L912,1432"/>
<path stroke="#f08a80" d="M842,1350L912,1363M842,1382L912,1420M842,1388L912,1430M842,1395L912,1440M842,1400L912,1445M842,1405L912,1450M842,1410L912,1428M842,1415L912,1436M842,1420L912,1448M842,1398L912,1412M842,1408L912,1418M842,1418L912,1456M842,1426L912,1452M842,1392L912,1405"/>
<path stroke="#28b9bd" d="M1034,1365L1103,1310M1034,1372L1103,1325M1034,1375L1103,1348M1034,1390L1103,1360M1034,1400L1103,1370M1034,1410L1103,1380M1034,1420L1103,1390M1034,1430L1103,1400M1034,1440L1103,1410M1034,1450L1103,1420M1034,1455L1103,1428M1034,1445L1103,1440M1034,1435L1103,1395M1034,1425L1103,1415M1034,1415L1103,1405M1034,1405L1103,1425M1034,1395L1103,1385M1034,1445L1103,1375M1034,1452L1103,1410M1034,1430L1103,1432M1034,1420L1103,1445M1034,1440L1103,1422M1034,1410L1103,1398M1034,1458L1103,1437"/>
<path stroke="#f08a80" d="M1034,1388L1103,1393M1034,1410L1103,1420M1034,1420L1103,1428M1034,1430L1103,1436M1034,1440L1103,1450M1034,1445L1103,1460M1034,1405L1103,1412M1034,1425L1103,1440M1034,1435L1103,1445M1034,1415L1103,1435"/></g>
<g stroke="#000" stroke-width="1.3">
<line x1="421" y1="1326" x2="421" y2="1476"/><line x1="420" y1="1475.5" x2="576" y2="1475.5"/>
<line x1="630" y1="1326" x2="630" y2="1476"/><line x1="629" y1="1475.5" x2="766" y2="1475.5"/>
<line x1="799" y1="1326" x2="799" y2="1476"/><line x1="798" y1="1475.5" x2="954" y2="1475.5"/>
<line x1="993" y1="1330" x2="993" y2="1478"/><line x1="992" y1="1477.6" x2="1144" y2="1477.6"/></g>
<g font-size="11" text-anchor="end"><text x="416" y="1380">9</text><text x="416" y="1438">8</text>
<text x="625" y="1342">13.5</text><text x="625" y="1371">13.0</text><text x="625" y="1399">12.5</text><text x="625" y="1428">12.0</text><text x="625" y="1456">11.5</text>
<text x="794" y="1360">6</text><text x="794" y="1405">4</text><text x="794" y="1450">2</text>
<text x="988" y="1342">4</text><text x="988" y="1374">3</text><text x="988" y="1407">2</text><text x="988" y="1439">1</text><text x="988" y="1472">0</text></g>
<g font-size="11" text-anchor="middle"><text x="464" y="1492">C1D1</text><text x="534" y="1492">C3D1</text><text x="667" y="1492">C1D1</text><text x="729" y="1492">C3D1</text><text x="842" y="1492">C1D1</text><text x="912" y="1492">C3D1</text><text x="1034" y="1496">C1D1</text><text x="1103" y="1496">C3D1</text></g>
<text transform="translate(400,1390) rotate(-90)" font-size="13" text-anchor="middle">NPX</text>
<rect x="621" y="1503" width="14" height="65" fill="#f4a39b"/>
<rect x="796" y="1503" width="14" height="65" fill="#72cdd0"/>
<text x="640" y="1542" font-size="22">Down regulated</text>
<text x="815" y="1542" font-size="22">Up regulated</text>
</svg>
</body></html>
